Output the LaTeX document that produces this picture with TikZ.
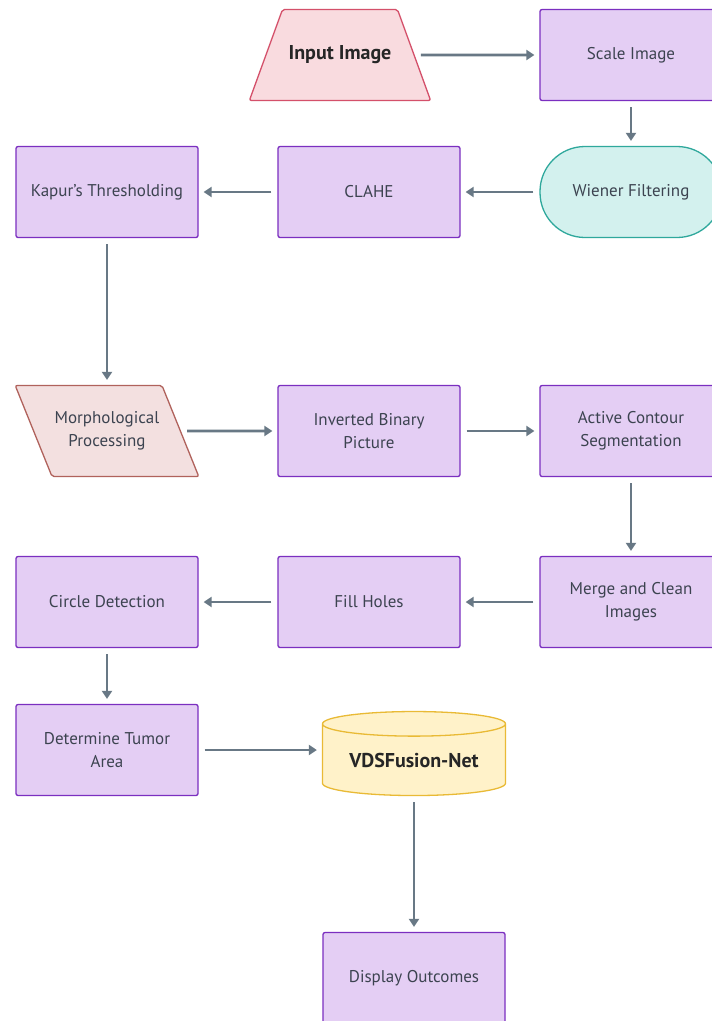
\documentclass[tikz,border=0pt]{standalone}
\usepackage{fontspec}
\setmainfont{PT Sans}
\usetikzlibrary{shapes.geometric,arrows.meta}

\definecolor{boxfill}{HTML}{E4CEF4}
\definecolor{boxline}{HTML}{7B2FC0}
\definecolor{infill}{HTML}{F9DBDF}
\definecolor{inline}{HTML}{D4506A}
\definecolor{wfill}{HTML}{D3F1EE}
\definecolor{wline}{HTML}{2FA89C}
\definecolor{mfill}{HTML}{F3E0E0}
\definecolor{mline}{HTML}{B0625C}
\definecolor{dbfill}{HTML}{FFF2C9}
\definecolor{dbline}{HTML}{E9BA35}
\definecolor{arrowc}{HTML}{687885}
\definecolor{txt}{HTML}{3C4350}

\newcommand{\slanttext}[2]{\parbox[c][91pt][c]{#1}{\centering #2}}

\begin{document}
\begin{tikzpicture}
  [
    x=1pt, y=-1pt,
    base/.style =
      {line width=1.3pt, align=center, text=txt, inner sep=0pt,
       font=\fontsize{17}{23}\selectfont},
    block/.style =
      {base, draw=boxline, fill=boxfill, rectangle, rounded corners=2pt,
       minimum width=182pt, minimum height=91pt},
    inputbox/.style =
      {base, draw=inline, fill=infill, trapezium, trapezium left angle=70,
       trapezium right angle=70, rounded corners=2pt,
       text=black!85, font=\fontsize{20}{24}\selectfont\bfseries},
    filterbox/.style =
      {base, draw=wline, fill=wfill, rectangle, rounded corners=45pt,
       minimum width=182pt, minimum height=91pt},
    morphbox/.style =
      {base, draw=mline, fill=mfill, trapezium, trapezium left angle=112,
       trapezium right angle=68, rounded corners=2pt},
    netbox/.style =
      {base, draw=dbline, fill=dbfill, cylinder, shape border rotate=90,
       aspect=0.19, minimum width=183pt, minimum height=84pt,
       text=black!85, font=\fontsize{20}{24}\selectfont\bfseries},
    flow/.style =
      {draw=arrowc, line width=2.6pt, -{Triangle[length=8pt,width=10pt]},
       shorten >=5pt, shorten <=6pt}
  ]

\clip (0,0) rectangle (712,1021);
\fill[white] (0,0) rectangle (712,1021);

\node[inputbox]  (input)   at (340,55)  {\slanttext{115pt}{Input Image}};
\node[block]     (scale)   at (631,55)  {Scale Image};
\node[filterbox] (wiener)  at (631,192) {Wiener Filtering};
\node[block]     (clahe)   at (369,192) {CLAHE};
\node[block]     (kapur)   at (107,192) {Kapur's Thresholding};

\node[morphbox]  (morph)   at (107,431) {\slanttext{110pt}{Morphological\\Processing}};
\node[block]     (invert)  at (369,431) {Inverted Binary\\Picture};
\node[block]     (contour) at (631,431) {Active Contour\\Segmentation};

\node[block]     (merge)   at (631,602) {Merge and Clean\\Images};
\node[block]     (holes)   at (369,602) {Fill Holes};
\node[block]     (circle)  at (107,602) {Circle Detection};

\node[block]     (tumor)   at (107,750) {Determine Tumor\\Area};
\node[netbox]    (vds)     at (414,760) {VDSFusion-Net};
\node[block]     (display) at (414,978) {Display Outcomes};

\draw [flow] (input) -- (scale);
\draw [flow] (scale) -- (wiener);
\draw [flow] (wiener) -- (clahe);
\draw [flow] (clahe) -- (kapur);
\draw [flow] (kapur) -- (morph);
\draw [flow] (morph) -- (invert);
\draw [flow] (invert) -- (contour);
\draw [flow] (contour) -- (merge);
\draw [flow] (merge) -- (holes);
\draw [flow] (holes) -- (circle);
\draw [flow] (circle) -- (tumor);
\draw [flow] (tumor.east) -- (vds.west |- tumor.east);
\draw [flow] (vds) -- (display);

\end{tikzpicture}
\end{document}
